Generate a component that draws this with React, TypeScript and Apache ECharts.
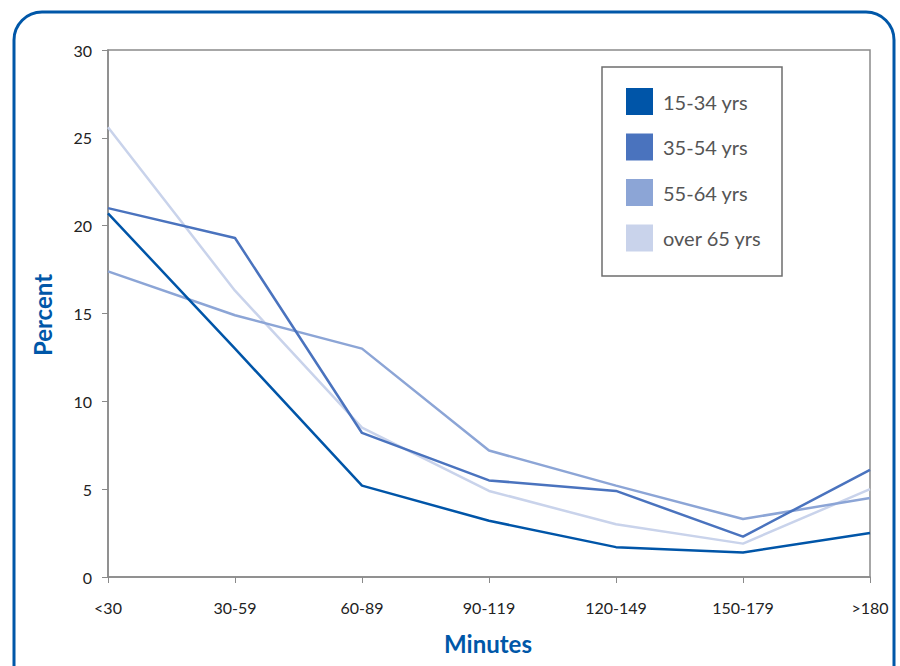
import React, { useEffect, useRef } from "react";
import * as echarts from "echarts";

const categories = ["<30", "30-59", "60-89", "90-119", "120-149", "150-179", ">180"];
const seriesNames = ["15-34 yrs", "35-54 yrs", "55-64 yrs", "over 65 yrs"];
const age15to34 = [20.7, 13.0, 5.2, 3.2, 1.7, 1.4, 2.5];
const age35to54 = [21.0, 19.3, 8.2, 5.5, 4.9, 2.3, 6.1];
const age55to64 = [17.4, 14.9, 13.0, 7.2, 5.2, 3.3, 4.5];
const over65 = [25.6, 16.3, 8.5, 4.9, 3.0, 1.9, 5.0];
const colors = ["#0055A8", "#4A73BE", "#8CA5D6", "#C9D3EB"];

export default function App() {
  const ref = useRef<HTMLDivElement>(null);
  useEffect(() => {
    if (!ref.current) return;
    const chart = echarts.init(ref.current, null, { renderer: "svg" });
    const data = [age15to34, age35to54, age55to64, over65];
    chart.setOption({
      animation: false,
      backgroundColor: "#ffffff",
      textStyle: { fontFamily: "Lato" },
      grid: {
        left: 108,
        top: 50,
        right: 30,
        bottom: 89,
        show: true,
        borderColor: "#8a8a8a",
        borderWidth: 1.5,
      },
      legend: {
        orient: "vertical",
        left: 626,
        top: 88,
        padding: 0,
        itemWidth: 27,
        itemHeight: 27,
        itemGap: 18.5,
        icon: "rect",
        data: seriesNames.map((n, i) => ({ name: n, itemStyle: { color: colors[i] } })),
        textStyle: { color: "#555555", fontSize: 20, fontFamily: "Lato", padding: [0, 0, 0, 5] },
      },
      xAxis: {
        type: "category",
        data: categories,
        boundaryGap: false,
        axisLine: { lineStyle: { color: "#8a8a8a", width: 1.5 } },
        axisTick: { show: true, length: 6, lineStyle: { color: "#8a8a8a" } },
        axisLabel: { color: "#222222", fontSize: 16, margin: 22, fontFamily: "Lato" },
      },
      yAxis: {
        type: "value",
        min: 0,
        max: 30,
        interval: 5,
        splitLine: { show: false },
        axisLine: { show: true, lineStyle: { color: "#8a8a8a", width: 1.5 } },
        axisTick: { show: true, length: 6, lineStyle: { color: "#8a8a8a" } },
        axisLabel: { color: "#222222", fontSize: 16, margin: 16, fontFamily: "Lato" },
      },
      series: data.map((d, i) => ({
        name: seriesNames[i],
        type: "line",
        data: d,
        showSymbol: false,
        symbol: "none",
        z: 10 - i,
        lineStyle: { color: colors[i], width: 2.5 },
        itemStyle: { color: colors[i] },
      })),
      graphic: [
        {
          type: "rect",
          shape: { x: 14, y: 12, width: 880, height: 720, r: 28 },
          style: { fill: "none", stroke: "#0057A8", lineWidth: 3 },
          silent: true,
        },
        {
          type: "rect",
          shape: { x: 602, y: 67, width: 180, height: 209 },
          style: { fill: "none", stroke: "#6e6e6e", lineWidth: 1.5 },
          silent: true,
        },
        {
          type: "text",
          x: 42,
          y: 315,
          rotation: Math.PI / 2,
          style: {
            text: "Percent",
            fill: "#0057A8",
            font: "bold 24px Lato",
            textAlign: "center",
            textVerticalAlign: "middle",
          },
        },
        {
          type: "text",
          x: 488,
          y: 643,
          style: {
            text: "Minutes",
            fill: "#0057A8",
            font: "bold 24px Lato",
            textAlign: "center",
            textVerticalAlign: "middle",
          },
        },
      ],
    });
    return () => chart.dispose();
  }, []);
  return (
    <div
      ref={ref}
      style={{ position: "absolute", left: 0, top: 0, width: 900, height: 666 }}
    />
  );
}
